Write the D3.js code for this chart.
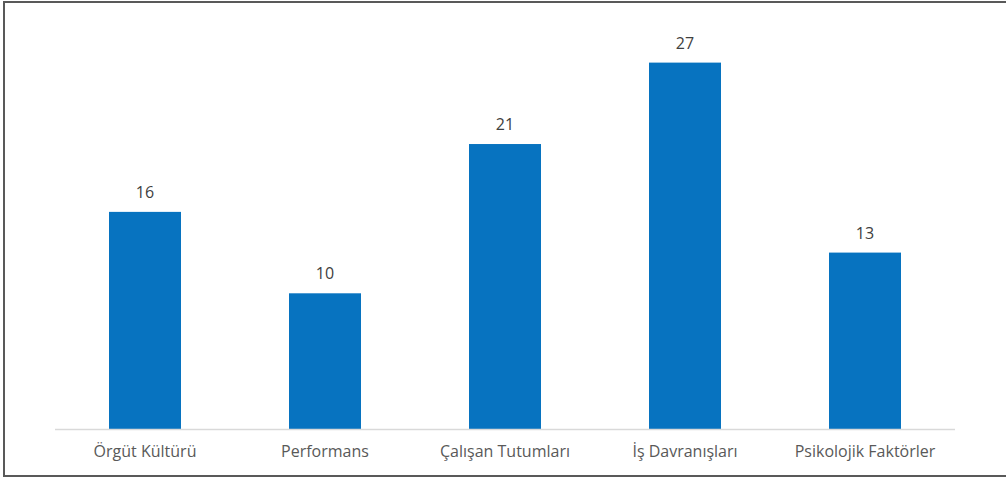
<!DOCTYPE html>
<html>
<head>
<meta charset="utf-8">
<script src="https://cdn.jsdelivr.net/npm/d3@7"></script>
<style>
  html, body { margin: 0; padding: 0; background: #fff; }
  svg { display: block; }
</style>
</head>
<body>
<svg id="chart" width="1006" height="478"></svg>
<script>
// Category names and counts
const categories = ["Örgüt Kültürü", "Performans", "Çalışan Tutumları", "İş Davranışları", "Psikolojik Faktörler"];
const counts = [16, 10, 21, 27, 13];
const yMax = [0, 30];

const svg = d3.select("#chart");
const W = 1006, H = 478;

// outer frame (open on the right edge)
svg.append("path")
  .attr("d", `M${W},2 H4 V476 H${W}`)
  .attr("fill", "none")
  .attr("stroke", "#595959")
  .attr("stroke-width", 2);

const baseY = 429;
const x = d3.scaleBand()
  .domain(categories)
  .range([55, 955])
  .paddingInner(0.6)
  .paddingOuter(0.3);

const y = d3.scaleLinear()
  .domain(yMax)
  .range([baseY, baseY - 30 * 13.57]);

const font = "'Open Sans', 'Noto Sans', sans-serif";

// bars
svg.append("g")
  .selectAll("rect")
  .data(categories)
  .join("rect")
  .attr("x", d => x(d))
  .attr("y", (d, i) => y(counts[i]))
  .attr("width", x.bandwidth())
  .attr("height", (d, i) => y(0) - y(counts[i]))
  .attr("fill", "#0773C0");

// category axis
const xAxis = svg.append("g")
  .attr("transform", `translate(0,${baseY})`)
  .call(d3.axisBottom(x).tickSize(0).tickPadding(17));
xAxis.select(".domain")
  .attr("d", `M55,0.5H955`)
  .attr("stroke", "#D9D9D9")
  .attr("stroke-width", 1.5);
xAxis.selectAll("text")
  .attr("font-family", font)
  .attr("font-size", 16)
  .attr("fill", "#595959");

// value labels
svg.append("g")
  .selectAll("text")
  .data(categories)
  .join("text")
  .attr("x", d => x(d) + x.bandwidth() / 2)
  .attr("y", (d, i) => y(counts[i]) - 14)
  .attr("text-anchor", "middle")
  .attr("font-family", font)
  .attr("font-size", 16)
  .attr("font-weight", 500)
  .attr("fill", "#404040")
  .text((d, i) => counts[i]);
</script>
</body>
</html>
